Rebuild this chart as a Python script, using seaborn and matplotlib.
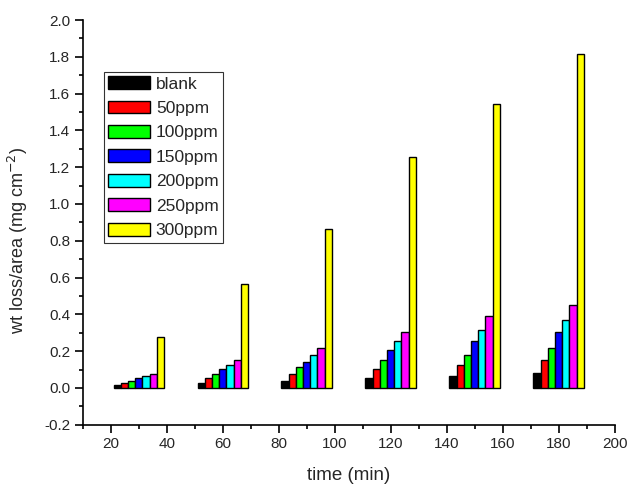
import matplotlib
matplotlib.use("Agg")
import matplotlib.pyplot as plt
from matplotlib.patches import Patch
from matplotlib.ticker import MultipleLocator, FormatStrFormatter
import pandas as pd
import seaborn as sns

# data
times = [30, 60, 90, 120, 150, 180]
series = ["blank", "50ppm", "100ppm", "150ppm", "200ppm", "250ppm", "300ppm"]
blank = [0.016, 0.029, 0.040, 0.055, 0.067, 0.080]
ppm50 = [0.027, 0.053, 0.078, 0.102, 0.127, 0.153]
ppm100 = [0.040, 0.078, 0.116, 0.153, 0.178, 0.216]
ppm150 = [0.053, 0.102, 0.140, 0.204, 0.255, 0.304]
ppm200 = [0.065, 0.127, 0.178, 0.255, 0.316, 0.367]
ppm250 = [0.078, 0.153, 0.216, 0.304, 0.391, 0.453]
ppm300 = [0.276, 0.565, 0.865, 1.255, 1.544, 1.818]
colors = ["#000000", "#FF0000", "#00FF00", "#0000FF", "#00FFFF", "#FF00FF", "#FFFF00"]

values = [blank, ppm50, ppm100, ppm150, ppm200, ppm250, ppm300]
rows = []
for name, vals in zip(series, values):
    for t, v in zip(times, vals):
        rows.append({"time": t, "conc": name, "loss": v})
df = pd.DataFrame(rows)

sns.set_style("ticks")
plt.rcParams["font.family"] = ["Liberation Sans", "DejaVu Sans"]

fig = plt.figure(figsize=(6.28, 4.86), dpi=100)
ax = fig.add_axes([0.1317, 0.1261, 0.8471, 0.8327])

sns.barplot(
    data=df, x="time", y="loss", hue="conc", hue_order=series,
    palette=colors, native_scale=True, width=0.6, dodge=True,
    edgecolor="black", linewidth=1.0, saturation=1, legend=False, ax=ax
)

ax.set_xlim(10, 200)
ax.set_ylim(-0.2, 2.0)
ax.xaxis.set_major_locator(MultipleLocator(20))
ax.xaxis.set_minor_locator(MultipleLocator(10))
ax.yaxis.set_major_locator(MultipleLocator(0.2))
ax.yaxis.set_minor_locator(MultipleLocator(0.1))
ax.yaxis.set_major_formatter(FormatStrFormatter("%.1f"))
ax.xaxis.set_major_formatter(FormatStrFormatter("%d"))
ax.tick_params(which="major", direction="out", length=6, width=1.2, pad=3,
               labelsize=11, color="black")
ax.tick_params(which="minor", direction="out", length=3, width=1.2, color="black")

for side in ["top", "right"]:
    ax.spines[side].set_visible(False)
for side in ["left", "bottom"]:
    ax.spines[side].set_color("black")
    ax.spines[side].set_linewidth(1.2)

ax.set_xlabel("time (min)", fontsize=13.5)
ax.set_ylabel("wt loss/area (mg cm$^{-2}$)", fontsize=13)
ax.xaxis.set_label_coords(0.5, -0.105)
ax.yaxis.set_label_coords(-0.1, 0.455)

handles = [Patch(facecolor=c, edgecolor="black", linewidth=1) for c in colors]
leg = ax.legend(
    handles, series, loc="upper left", bbox_to_anchor=(0.0395, 0.872),
    fontsize=12.5, frameon=True, fancybox=False, edgecolor="black",
    handlelength=2.4, handleheight=0.75, labelspacing=0.52,
    handletextpad=0.35, borderpad=0.25, borderaxespad=0.0
)
leg.get_frame().set_linewidth(0.8)

fig.savefig("out.png", dpi=100)
